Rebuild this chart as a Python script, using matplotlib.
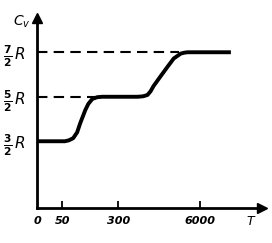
import numpy as np
import matplotlib
matplotlib.use("Agg")
import matplotlib.pyplot as plt

# data
T_curve = [0, 55, 63, 73, 83, 92, 108, 119, 135, 157, 184, 620, 750, 885, 990, 1106,
           1433, 1863, 2322, 3000, 3400, 3873, 19000]
Cv_curve = [1.5, 1.5, 1.52, 1.57, 1.7, 1.91, 2.2, 2.34, 2.45, 2.49, 2.5, 2.5, 2.51,
            2.54, 2.62, 2.74, 2.96, 3.18, 3.36, 3.47, 3.49, 3.5, 3.5]
x_ticks = [0, 50, 300, 6000]
x_tick_labels = ["0", "50", "300", "6000"]
levels = [1.5, 2.5, 3.5]
level_labels = [r"$\mathbf{\frac{3}{2}}\,\mathit{R}$", r"$\mathbf{\frac{5}{2}}\,\mathit{R}$",
                r"$\mathbf{\frac{7}{2}}\,\mathit{R}$"]
dash_end_T = [None, 148, 2786]

# nonlinear (log-like) temperature axis of the sketch
anchor_T = np.array([0, 50, 300, 6000, 60000])
anchor_p = np.array([0, 25, 81, 162, 224])
anchor_u = np.log10(anchor_T + 10.0)


def fwd(t):
    u = np.log10(np.maximum(np.asarray(t, float), 0) + 10.0)
    return np.interp(u, anchor_u, anchor_p)


def inv(p):
    u = np.interp(np.asarray(p, float), anchor_p, anchor_u)
    return 10 ** u - 10.0


fig = plt.figure(figsize=(2.72, 2.43), dpi=100)
ax = fig.add_axes([37/272, 35/243, 225/272, 190/243])
ax.set_xscale('function', functions=(fwd, inv))
ax.set_xlim(0, 60000)
ax.set_ylim(0, 4.27)

for s in ['top', 'right']:
    ax.spines[s].set_visible(False)
for s in ['left', 'bottom']:
    ax.spines[s].set_linewidth(2)

# arrows
ax.plot(1, 0, marker='>', color='k', markersize=7, transform=ax.transAxes, clip_on=False)
ax.plot(0, 1, marker='^', color='k', markersize=7, transform=ax.transAxes, clip_on=False)

# dashed levels
for lv, te in zip(levels, dash_end_T):
    if te is not None:
        ax.plot([0, te], [lv, lv], color='k', lw=1.5, ls=(0, (5, 3)))

ax.plot(T_curve, Cv_curve, color='k', lw=2.8, solid_capstyle='butt', solid_joinstyle='round')

ax.set_xticks(x_ticks)
ax.set_xticklabels(x_tick_labels, fontsize=8, fontstyle='italic', fontweight='bold')
ax.tick_params(axis='x', direction='in', length=5, width=1.3, pad=6)
ax.xaxis.get_major_ticks()[0].tick1line.set_visible(False)
ax.xaxis.set_minor_locator(matplotlib.ticker.NullLocator())

ax.set_yticks(levels)
ax.set_yticklabels(level_labels, fontsize=11)
ax.tick_params(axis='y', length=0, pad=8)
ax.yaxis.set_minor_locator(matplotlib.ticker.NullLocator())

fig.text(22/272, 1 - 22/243, r"$\mathit{C_v}$", fontsize=10, ha='center', va='center', fontweight='bold')
fig.text(251/272, 1 - 221/243, r"$\mathit{T}$", fontsize=9, ha='center', va='center')

fig.savefig("out.png", dpi=100)
